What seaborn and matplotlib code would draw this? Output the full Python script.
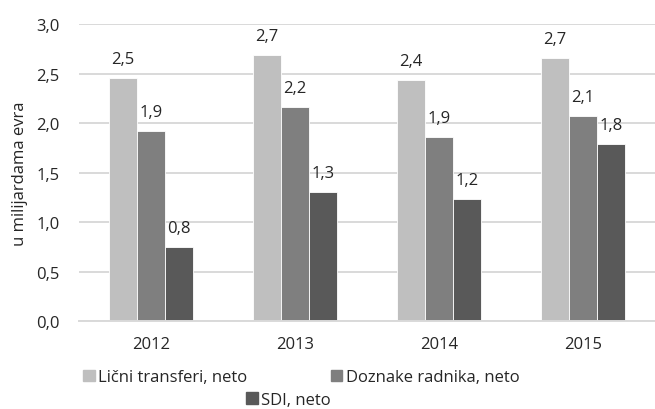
import pandas as pd
import seaborn as sns
import matplotlib.pyplot as plt
from matplotlib.patches import Patch

# data (billions of euro)
years = ['2012', '2013', '2014', '2015']
series = ['Lični transferi, neto', 'Doznake radnika, neto', 'SDI, neto']
licni = [2.45, 2.69, 2.43, 2.66]
doznake = [1.92, 2.16, 1.86, 2.07]
sdi = [0.75, 1.30, 1.23, 1.79]
colors = ['#bfbfbf', '#7f7f7f', '#595959']

df = pd.DataFrame({
    'godina': years * 3,
    'serija': [series[0]] * 4 + [series[1]] * 4 + [series[2]] * 4,
    'vrednost': licni + doznake + sdi,
})

sns.set_style('white')
plt.rcParams['font.family'] = ['Open Sans', 'DejaVu Sans']
fs = 12

fig = plt.figure(figsize=(6.55, 4.10), dpi=100)
ax = fig.add_axes([0.1206, 0.2146, 0.8794, 0.7244])

sns.barplot(data=df, x='godina', y='vrednost', hue='serija', palette=colors,
            width=0.58, ax=ax, legend=False, edgecolor='white', linewidth=0.6)

for cont in ax.containers:
    labs = [f'{b.get_height():.1f}'.replace('.', ',') for b in cont]
    ax.bar_label(cont, labels=labs, padding=8, fontsize=fs)

ax.set_ylim(0, 3.0)
ax.set_yticks([0, 0.5, 1.0, 1.5, 2.0, 2.5, 3.0])
ax.set_yticklabels([f'{v:.1f}'.replace('.', ',') for v in ax.get_yticks()], fontsize=fs)
ax.tick_params(axis='x', labelsize=fs, pad=11, length=0)
ax.tick_params(axis='y', pad=14, length=0)
ax.set_xlabel('')
ax.set_ylabel('u milijardama evra', fontsize=fs, labelpad=6)
ax.yaxis.grid(True, color='#d9d9d9', linewidth=1.4)
ax.set_axisbelow(True)
for s in ['top', 'right', 'left']:
    ax.spines[s].set_visible(False)
ax.spines['bottom'].set_color('#d9d9d9')
ax.spines['bottom'].set_linewidth(1.4)

h = [Patch(color=c) for c in colors]
fig.legend(h[:2], series[:2], loc='center', bbox_to_anchor=(0.46, 0.077), ncol=2,
           frameon=False, fontsize=fs, handlelength=0.7, handleheight=0.7,
           handletextpad=0.2, columnspacing=5.0, borderpad=0)
fig.legend(h[2:], series[2:], loc='center', bbox_to_anchor=(0.44, 0.022),
           frameon=False, fontsize=fs, handlelength=0.7, handleheight=0.7,
           handletextpad=0.2, borderpad=0)

fig.savefig('out.png', dpi=100)
